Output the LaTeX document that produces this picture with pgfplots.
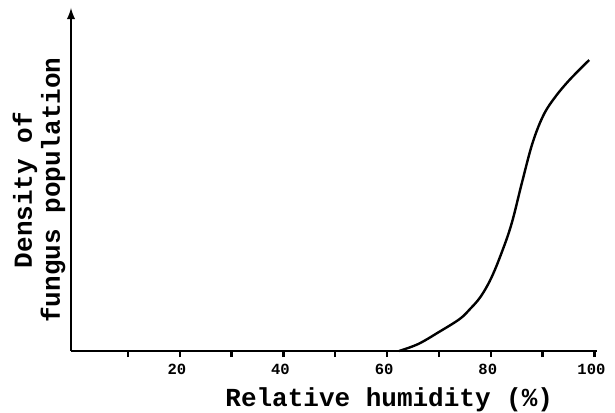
\documentclass[border=0pt]{standalone}
\usepackage{fontspec}
\setmainfont{Liberation Mono}
\usepackage{pgfplots}
\pgfplotsset{compat=1.18}
\begin{document}
\begin{tikzpicture}
\begin{axis}[
  at={(0,0)}, anchor=south west,
  scale only axis, width=526pt, height=343pt,
  xmin=-1, xmax=100.5, ymin=0, ymax=343,
  axis x line=bottom, axis y line=left,
  x axis line style={-, line width=2.8pt},
  y axis line style={-latex, line width=2.8pt},
  ytick=\empty,
  xtick={20,40,60,80,100},
  minor xtick={10,30,50,70,90},
  tick align=outside,
  major tick length=6pt, minor tick length=6pt,
  every tick/.style={black, line width=2.4pt},
  /pgf/number format/assume math mode=true,
  xticklabel style={font=\fontsize{15.5}{15.5}\selectfont\bfseries, yshift=-4pt, xshift=-3pt},
  xlabel={Relative humidity (\%)},
  xlabel style={font=\fontsize{26}{28}\selectfont\bfseries, at={(rel axis cs:0.605,0)}, anchor=center, yshift=-49pt},
  ylabel={Density of\\fungus population},
  ylabel style={font=\fontsize{26}{28}\selectfont\bfseries, align=center, at={(rel axis cs:0,0.469)}, anchor=center, yshift=32pt},
  clip=false,
]
\addplot[black, line width=2.4pt, smooth, tension=0.6] coordinates {
(62.3,0) (66,7) (70,19) (74,32) (76,42) (78,54) (80,72) (82,97) (84,127) (86,168) (88,207) (90,234) (92,251) (95,270) (99,291)
};
\end{axis}
\pgfresetboundingbox
\path (-71pt,-61pt) rectangle (544pt,351pt);
\end{tikzpicture}
\end{document}
